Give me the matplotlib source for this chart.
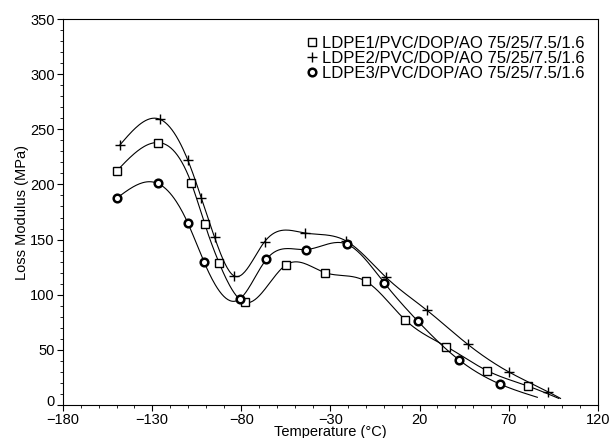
import numpy as np
import matplotlib
matplotlib.use('Agg')
import matplotlib.pyplot as plt
import matplotlib.transforms as mtransforms
from matplotlib.ticker import MultipleLocator

plt.rcParams['font.family'] = ['Liberation Sans', 'DejaVu Sans']

# data (last point of each series is the curve end, no marker)
t1 = [-150, -127, -108, -100.5, -92.5, -78, -55, -33, -10, 12, 35, 58, 81, 98]
m1 = [212, 238, 201, 164, 129, 93, 127, 120, 112, 77, 53, 31, 17, 6]

t2 = [-148, -125.5, -110, -102.5, -95, -84, -67, -44.5, -21.5, 1, 24, 47, 70, 92, 99]
m2 = [236, 259, 222, 188, 152, 117, 148, 156, 149, 116, 86, 55, 30, 12, 6]

t3 = [-149.5, -127, -110, -101, -81, -66, -43.5, -21, 0, 19, 42, 65, 86]
m3 = [188, 201, 165, 130, 96, 132, 141, 146, 111, 76, 41, 19, 7]

labels = ['LDPE1/PVC/DOP/AO 75/25/7.5/1.6',
          'LDPE2/PVC/DOP/AO 75/25/7.5/1.6',
          'LDPE3/PVC/DOP/AO 75/25/7.5/1.6']


def natural_spline(x, y, n=400):
    # plain natural cubic spline, just to draw the smooth line through the points
    x = np.asarray(x, float)
    y = np.asarray(y, float)
    k = len(x)
    h = np.diff(x)
    A = np.zeros((k, k))
    r = np.zeros(k)
    A[0, 0] = 1
    A[-1, -1] = 1
    for i in range(1, k - 1):
        A[i, i - 1] = h[i - 1]
        A[i, i] = 2 * (h[i - 1] + h[i])
        A[i, i + 1] = h[i]
        r[i] = 6 * ((y[i + 1] - y[i]) / h[i] - (y[i] - y[i - 1]) / h[i - 1])
    M = np.linalg.solve(A, r)
    xs = np.linspace(x[0], x[-1], n)
    j = np.clip(np.searchsorted(x, xs) - 1, 0, k - 2)
    a = x[j + 1] - xs
    b = xs - x[j]
    hh = h[j]
    ys = (M[j] * a**3 / (6 * hh) + M[j + 1] * b**3 / (6 * hh)
          + (y[j] / hh - M[j] * hh / 6) * a + (y[j + 1] / hh - M[j + 1] * hh / 6) * b)
    return xs, ys


fig = plt.figure(figsize=(6.13, 4.38), dpi=100)
ax = fig.add_axes([0.1028, 0.0753, 0.8727, 0.8813])

series = [(t1, m1, 's', 6, 1.0, 13), (t2, m2, '+', 7, 1.0, 14), (t3, m3, 'o', 5.5, 1.8, 12)]
for (t, m, mk, ms, mew, nmark), lab in zip(series, labels):
    xs, ys = natural_spline(t, m)
    ax.plot(xs, ys, color='black', lw=0.8)
    ax.plot(t[:nmark], m[:nmark], linestyle='none', marker=mk, ms=ms, mew=mew,
            mfc='white' if mk != '+' else 'black', mec='black', label=lab)

ax.set_xlim(-180, 120)
ax.set_ylim(0, 350)
ax.set_xticks(np.arange(-180, 121, 50))
ax.set_yticks(np.arange(0, 351, 50))
ax.xaxis.set_minor_locator(MultipleLocator(10))
ax.yaxis.set_minor_locator(MultipleLocator(10))
ax.tick_params(axis='both', which='major', labelsize=10.5, length=4, width=0.8, direction='out')
ax.tick_params(axis='x', which='major', pad=1.5)
ax.tick_params(axis='y', which='major', pad=2)
ax.tick_params(axis='both', which='minor', length=2, width=0.6, direction='out')
for s in ax.spines.values():
    s.set_linewidth(0.8)

ax.set_xlabel('Temperature (°C)', fontsize=10.5, labelpad=-1)
ax.set_ylabel('Loss Modulus (MPa)', fontsize=10.5, labelpad=1)

ax.legend(loc='upper right', bbox_to_anchor=(1.0, 0.99), frameon=False, fontsize=12,
          handletextpad=0.15, handlelength=0.9, labelspacing=0.0, borderpad=0.3)

# nudge the "0" label up a few pixels so it clears "-180"
lab0 = ax.yaxis.get_major_ticks()[0].label1
lab0.set_transform(lab0.get_transform() + mtransforms.ScaledTranslation(0, 3 / 72, fig.dpi_scale_trans))

fig.savefig('out.png', dpi=100)
